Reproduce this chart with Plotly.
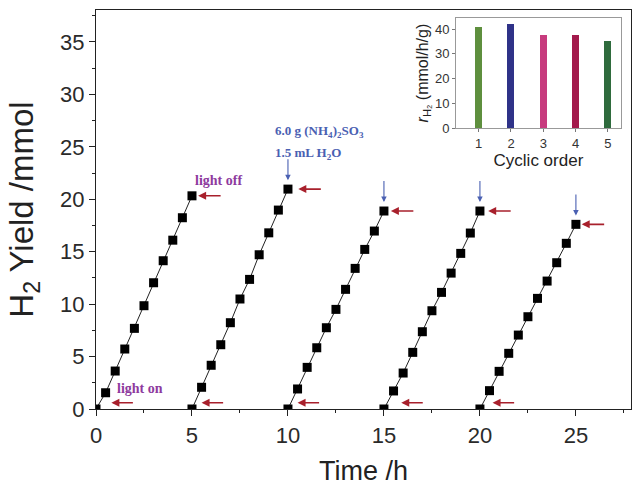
import plotly.graph_objects as go

# ---------------- data ----------------
cycle1_time = [0, 0.5, 1, 1.5, 2, 2.5, 3, 3.5, 4, 4.5, 5]
cycle1_yield = [0, 1.55, 3.62, 5.72, 7.69, 9.85, 12.04, 14.14, 16.10, 18.24, 20.33]
cycle2_time = [5, 5.5, 6, 6.5, 7, 7.5, 8, 8.5, 9, 9.5, 10]
cycle2_yield = [0, 2.07, 4.17, 6.13, 8.23, 10.49, 12.36, 14.71, 16.80, 18.97, 20.97]
cycle3_time = [10, 10.5, 11, 11.5, 12, 12.5, 13, 13.5, 14, 14.5, 15]
cycle3_yield = [0, 1.91, 3.97, 5.84, 7.75, 9.50, 11.41, 13.41, 15.22, 16.97, 18.88]
cycle4_time = [15, 15.5, 16, 16.5, 17, 17.5, 18, 18.5, 19, 19.5, 20]
cycle4_yield = [0, 1.72, 3.43, 5.40, 7.37, 9.37, 11.12, 12.96, 14.84, 16.78, 18.88]
cycle5_time = [20, 20.5, 21, 21.5, 22, 22.5, 23, 23.5, 24, 24.5, 25]
cycle5_yield = [0, 1.75, 3.59, 5.31, 7.05, 8.80, 10.55, 12.20, 13.95, 15.80, 17.61]

cycles_time = [cycle1_time, cycle2_time, cycle3_time, cycle4_time, cycle5_time]
cycles_yield = [cycle1_yield, cycle2_yield, cycle3_yield, cycle4_yield, cycle5_yield]

cyclic_order = [1, 2, 3, 4, 5]
rate_h2 = [40.8, 42.0, 37.8, 37.7, 35.3]
bar_colors = ["#5e8f3e", "#2f3288", "#c73b7e", "#a31a4c", "#2f6b3d"]

main_ticks = [0, 5, 10, 15, 20, 25]
y_ticks = [0, 5, 10, 15, 20, 25, 30, 35]
inset_yticks = [0, 10, 20, 30, 40]

# ---------------- figure ----------------
fig = go.Figure()

for t, y in zip(cycles_time, cycles_yield):
    fig.add_trace(go.Scatter(
        x=t, y=y, mode="lines+markers",
        line=dict(color="#222222", width=1),
        marker=dict(symbol="square", size=9, color="black"),
        showlegend=False, xaxis="x", yaxis="y"))

fig.add_trace(go.Bar(
    x=cyclic_order, y=rate_h2, marker=dict(color=bar_colors, line=dict(width=0)),
    width=0.22, showlegend=False, xaxis="x2", yaxis="y2"))

FONT = "Liberation Sans, Arial, sans-serif"
SERIF = "Liberation Serif, Times New Roman, serif"
RED = "#a8202c"
BLUE = "#4a60b2"
PURPLE = "#8e3a9e"

annotations = []
# red arrows at start of each cycle (light on)
start_head = [0.8, 0.5, 0.5, 0.9, 0.66]
for t, h in zip(cycles_time, start_head):
    annotations.append(dict(
        x=t[0] + h, y=0.6, ax=t[0] + h + 1.2, ay=0.6,
        xref="x", yref="y", axref="x", ayref="y",
        text="", showarrow=True, arrowhead=2, arrowsize=1, arrowwidth=1.6,
        arrowcolor=RED))
# red arrows at end of each cycle (light off)
end_head = [0.32, 0.54, 0.36, 0.43, 0.3]
for t, y, h in zip(cycles_time, cycles_yield, end_head):
    annotations.append(dict(
        x=t[-1] + h, y=y[-1], ax=t[-1] + h + 1.25, ay=y[-1],
        xref="x", yref="y", axref="x", ayref="y",
        text="", showarrow=True, arrowhead=2, arrowsize=1, arrowwidth=1.6,
        arrowcolor=RED))
# blue arrows: reagent addition
for t, y in zip(cycles_time[1:], cycles_yield[1:]):
    annotations.append(dict(
        x=t[-1], y=y[-1] + 0.85, ax=t[-1], ay=y[-1] + 3.0,
        xref="x", yref="y", axref="x", ayref="y",
        text="", showarrow=True, arrowhead=2, arrowsize=1, arrowwidth=1.1,
        arrowcolor=BLUE))

annotations += [
    dict(x=1.0, y=2.0, xref="x", yref="y", xanchor="left", yanchor="middle",
         text="<b>light on</b>", showarrow=False,
         font=dict(family=SERIF, size=14, color=PURPLE)),
    dict(x=5.03, y=21.76, xref="x", yref="y", xanchor="left", yanchor="middle",
         text="<b>light off</b>", showarrow=False,
         font=dict(family=SERIF, size=14, color=PURPLE)),
    dict(x=9.2, y=26.43, xref="x", yref="y", xanchor="left", yanchor="middle",
         text="<b>6.0 g (NH<sub>4</sub>)<sub>2</sub>SO<sub>3</sub></b>", showarrow=False,
         font=dict(family=SERIF, size=13, color=BLUE)),
    dict(x=9.2, y=24.4, xref="x", yref="y", xanchor="left", yanchor="middle",
         text="<b>1.5 mL H<sub>2</sub>O</b>", showarrow=False,
         font=dict(family=SERIF, size=13, color=BLUE)),
]

fig.update_layout(
    width=633, height=486,
    margin=dict(l=96, r=2, t=10, b=77),
    paper_bgcolor="white", plot_bgcolor="white",
    font=dict(family=FONT, color="#222222"),
    annotations=annotations,
    bargap=0,
    xaxis=dict(
        range=[0, 27.87], tickvals=main_ticks, ticks="outside", ticklen=6,
        tickwidth=1.3, tickcolor="#222", showline=True, linecolor="#222",
        linewidth=1.4, mirror=True, showgrid=False, zeroline=False,
        tickfont=dict(size=22, color="#2a2a2a"),
        minor=dict(dtick=2.5, tick0=0, ticks="outside", ticklen=3,
                   tickcolor="#222", tickwidth=1, showgrid=False),
        title=dict(text="Time /h", font=dict(size=27, color="#222"), standoff=14),
    ),
    yaxis=dict(
        range=[0, 38.05], tickvals=y_ticks, ticks="outside", ticklen=6,
        tickwidth=1.3, tickcolor="#222", showline=True, linecolor="#222",
        linewidth=1.4, mirror=True, showgrid=False, zeroline=False,
        tickfont=dict(size=22, color="#2a2a2a"),
        minor=dict(dtick=2.5, tick0=0, ticks="outside", ticklen=3,
                   tickcolor="#222", tickwidth=1, showgrid=False),
        title=dict(text="H<sub>2</sub> Yield /mmol", font=dict(size=33, color="#222"),
                   standoff=16),
    ),
    xaxis2=dict(
        domain=[0.673, 0.981], anchor="y2", range=[0.3, 5.4],
        tickvals=cyclic_order, ticks="outside", ticklen=3, tickcolor="#777",
        showline=True, linecolor="#999", linewidth=1, mirror=True,
        showgrid=False, zeroline=False, tickfont=dict(size=13, color="#333"),
        title=dict(text="Cyclic order", font=dict(size=17, color="#222"), standoff=2),
    ),
    yaxis2=dict(
        domain=[0.704, 0.98], anchor="x2", range=[0, 44.5],
        tickvals=inset_yticks, ticks="outside", ticklen=3, tickcolor="#777",
        showline=True, linecolor="#999", linewidth=1, mirror=True,
        showgrid=False, zeroline=False, tickfont=dict(size=13, color="#333"),
        title=dict(text="<i>r</i><sub>H₂</sub> (mmol/h/g)", font=dict(size=16, color="#222"),
                   standoff=2),
    ),
)

fig.write_html("out.html")
